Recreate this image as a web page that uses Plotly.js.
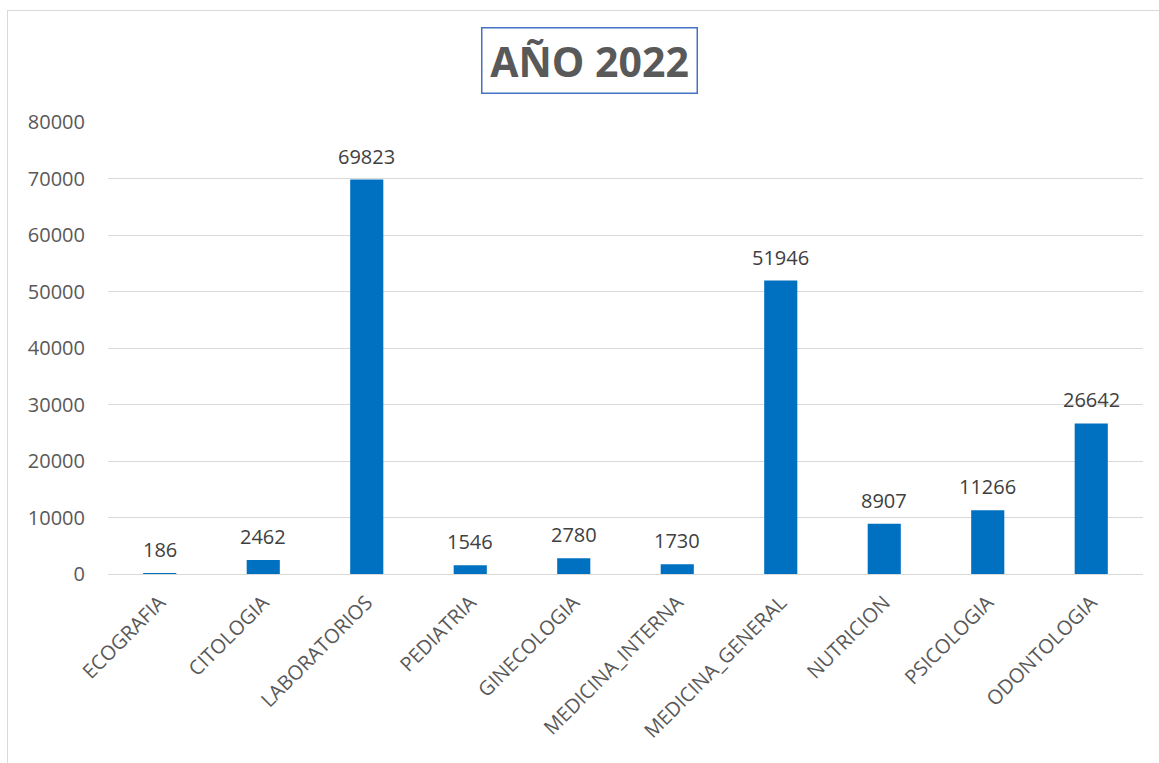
<!DOCTYPE html>
<html>
<head>
<meta charset="utf-8">
<script src="https://cdn.plot.ly/plotly-3.0.1.min.js"></script>
<style>
  html, body { margin: 0; padding: 0; background: #ffffff; overflow: hidden; }
  #chart { position: absolute; left: 7px; top: 10px; width: 1152px; height: 753px;
           border-left: 1px solid #D9D9D9; border-top: 1px solid #D9D9D9; }
</style>
</head>
<body>
<div id="chart"></div>
<script>
const categories = ["ECOGRAFIA", "CITOLOGIA", "LABORATORIOS", "PEDIATRIA", "GINECOLOGIA",
                    "MEDICINA_INTERNA", "MEDICINA_GENERAL", "NUTRICION", "PSICOLOGIA", "ODONTOLOGIA"];
const values = [186, 2462, 69823, 1546, 2780, 1730, 51946, 8907, 11266, 26642];
const yTicks = [0, 10000, 20000, 30000, 40000, 50000, 60000, 70000, 80000];
const titleText = "AÑO 2022";

const font = "'Open Sans', 'Liberation Sans', sans-serif";

const trace = {
  type: "bar",
  x: categories,
  y: values,
  marker: { color: "#0070C0" },
  hoverinfo: "x+y"
};

// data labels placed through the axes, a little above each bar
const labelAnnotations = categories.map((c, i) => ({
  xref: "x", yref: "y",
  x: c, y: values[i],
  xanchor: "center", yanchor: "bottom",
  yshift: 8,
  text: String(values[i]),
  showarrow: false,
  font: { family: font, size: 20, color: "#404040" }
}));

const layout = {
  width: 1152,
  height: 753,
  margin: { l: 100, r: 17, t: 111, b: 190 },
  paper_bgcolor: "#ffffff",
  plot_bgcolor: "#ffffff",
  showlegend: false,
  bargap: 0.68,
  font: { family: font, color: "#595959" },
  xaxis: {
    type: "category",
    tickangle: -45,
    tickfont: { family: font, size: 20, color: "#595959" },
    showgrid: false,
    showline: true,
    linecolor: "#D9D9D9",
    linewidth: 1,
    ticks: "",
    ticklabelstandoff: 8,
    automargin: false
  },
  yaxis: {
    range: [0, 80000],
    tickvals: yTicks,
    ticktext: yTicks.map(String),
    tickfont: { family: font, size: 20, color: "#595959" },
    showgrid: true,
    gridcolor: "#D9D9D9",
    gridwidth: 1,
    zeroline: false,
    showline: false,
    ticks: "",
    ticklabelstandoff: 22,
    automargin: false
  },
  annotations: [{
    xref: "paper", yref: "paper",
    x: 0.465, y: 1.137,
    xanchor: "center", yanchor: "middle",
    text: "<b>" + titleText + "</b>",
    showarrow: false,
    font: { family: font, size: 41, color: "#595959" },
    bordercolor: "#4472C4",
    borderwidth: 1.5,
    borderpad: 2,
    width: 210,
    height: 60,
    bgcolor: "#ffffff"
  }].concat(labelAnnotations)
};

Plotly.newPlot("chart", [trace], layout, { displayModeBar: false, staticPlot: true });
</script>
</body>
</html>
